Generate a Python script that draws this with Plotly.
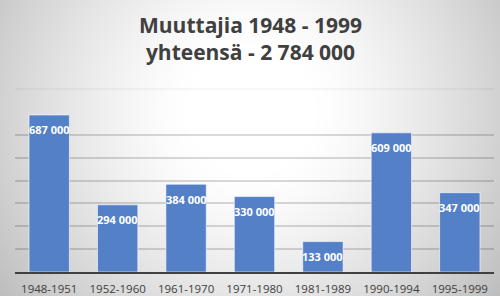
import plotly.graph_objects as go
import numpy as np
import zlib, struct, base64

categories = ["1948-1951", "1952-1960", "1961-1970", "1971-1980", "1981-1989", "1990-1994", "1995-1999"]
values = [687000, 294000, 384000, 330000, 133000, 609000, 347000]
title_lines = ["Muuttajia 1948 - 1999", "yhteensä - 2 784 000"]

def fmt(v):
    return f"{v:,}".replace(",", " ")

W, H = 500, 296
ML, MR, MT, MB = 15, 6, 112, 24
pw, ph = W - ML - MR, H - MT - MB

# radial background gradient as a small PNG
yy, xx = np.mgrid[0:H, 0:W]
d = np.sqrt(((xx - 250) / 330.0) ** 2 + ((yy - 110) / 330.0) ** 2)
t = np.clip((d - 0.2) / 0.8, 0, 1) ** 1.3
g = (255 - t * 72).astype(np.uint8)
raw = b"".join(b"\x00" + bytes(row) for row in g)
def chunk(tag, data):
    return struct.pack(">I", len(data)) + tag + data + struct.pack(">I", zlib.crc32(tag + data) & 0xffffffff)
png = (b"\x89PNG\r\n\x1a\n" + chunk(b"IHDR", struct.pack(">IIBBBBB", W, H, 8, 0, 0, 0, 0))
       + chunk(b"IDAT", zlib.compress(raw, 9)) + chunk(b"IEND", b""))
src = "data:image/png;base64," + base64.b64encode(png).decode()

fig = go.Figure()
fig.add_trace(go.Bar(
    x=categories, y=values,
    marker=dict(color="#5480C8", line=dict(color="rgba(255,255,255,0.6)", width=1)),
    hoverinfo="skip",
))

for c, v in zip(categories, values):
    fig.add_annotation(x=c, y=v, text=fmt(v), showarrow=False, yshift=-15,
                       font=dict(family="Open Sans", size=11, color="white", weight="bold"))

def py(px):
    return 1 + (MT - px) / ph

fig.add_annotation(xref="paper", yref="paper", x=(250 - ML) / pw, y=py(38.5),
                   xanchor="center", yanchor="middle", text="<br>".join(title_lines),
                   showarrow=False,
                   font=dict(family="Open Sans", size=21, color="#404040", weight="bold"))

fig.add_layout_image(dict(
    source=src, xref="paper", yref="paper",
    x=-ML / pw, y=1 + MT / ph, sizex=W / pw, sizey=H / ph,
    xanchor="left", yanchor="top", sizing="stretch", layer="below",
))

fig.add_shape(type="line", xref="paper", yref="paper",
              x0=0, x1=1, y0=py(89), y1=py(89),
              line=dict(color="rgba(0,0,0,0.07)", width=1))

fig.update_layout(
    width=W, height=H,
    margin=dict(l=ML, r=MR, t=MT, b=MB, autoexpand=False),
    paper_bgcolor="#e0e0e0",
    plot_bgcolor="rgba(0,0,0,0)",
    bargap=0.41,
    showlegend=False,
    xaxis=dict(showline=True, linecolor="#404040", linewidth=2, ticks="",
               ticklabelstandoff=5, automargin=False,
               tickfont=dict(family="Open Sans", size=11.5, color="#404040"),
               showgrid=False, fixedrange=True),
    yaxis=dict(range=[0, 700000], dtick=100000, showticklabels=False,
               showgrid=True, gridcolor="rgba(0,0,0,0.15)", gridwidth=1.5,
               zeroline=False, fixedrange=True, automargin=False),
)

fig.write_html("out.html", config={"displayModeBar": False})
